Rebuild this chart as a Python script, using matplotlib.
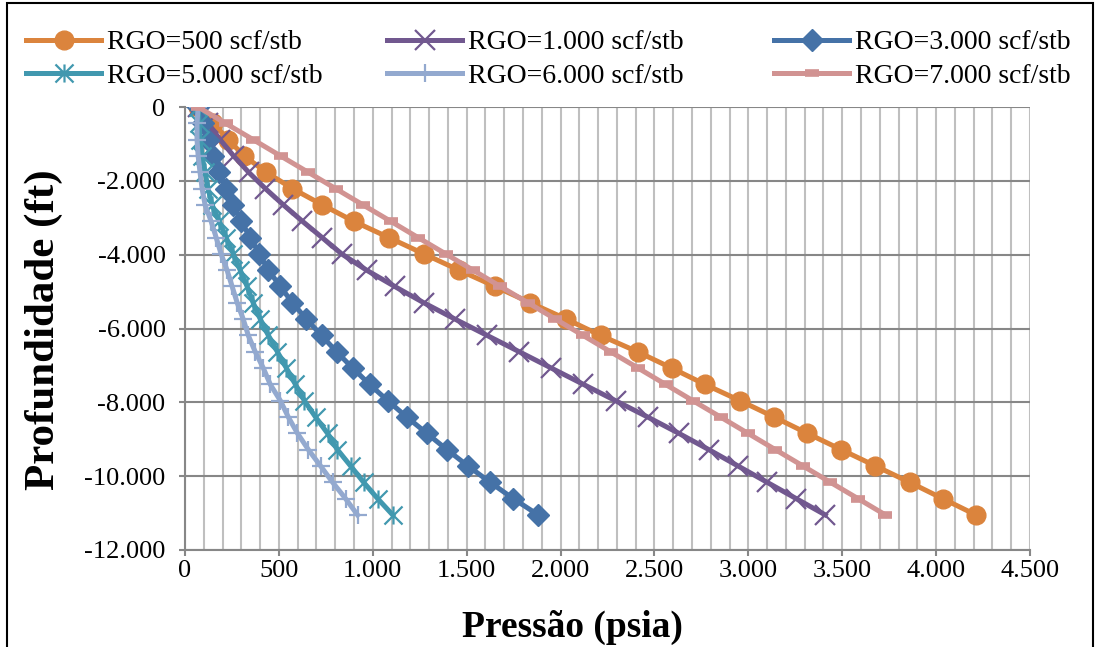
import numpy as np
import matplotlib
matplotlib.use("Agg")
import matplotlib.pyplot as plt
from matplotlib.path import Path
from matplotlib.patches import Rectangle
from matplotlib.ticker import MultipleLocator, FuncFormatter

plt.rcParams["font.family"] = ["Liberation Serif", "DejaVu Serif"]

# profundidade (ft), mesma malha para todas as curvas
depth = [0, -442, -884, -1326, -1768, -2210, -2652, -3094, -3536, -3978, -4420, -4862, -5304,
         -5746, -6188, -6630, -7072, -7514, -7956, -8398, -8840, -9282, -9724, -10166, -10608, -11050]

# pressao (psia) por RGO
p_500 = [70, 150, 230, 315, 433, 572, 732, 898, 1085, 1272, 1459, 1652, 1839,
         2031, 2213, 2410, 2592, 2769, 2956, 3137, 3314, 3495, 3677, 3859, 4035, 4212]
p_1000 = [70, 123, 187, 259, 339, 428, 524, 625, 730, 834, 967, 1117, 1272,
          1438, 1609, 1780, 1951, 2122, 2293, 2464, 2630, 2790, 2945, 3100, 3255, 3410]
p_3000 = [70, 96, 123, 150, 182, 219, 257, 299, 347, 396, 444, 508, 572,
          647, 727, 807, 893, 983, 1080, 1181, 1288, 1395, 1507, 1625, 1748, 1881]
p_5000 = [70, 75, 80, 91, 107, 123, 144, 182, 219, 257, 294, 331, 363,
          401, 444, 492, 540, 588, 636, 695, 759, 812, 882, 951, 1026, 1106]
p_6000 = [70, 64, 64, 70, 80, 91, 107, 139, 166, 192, 224, 251, 278,
          310, 337, 374, 417, 454, 508, 550, 599, 657, 722, 786, 855, 919]
p_7000 = [70, 216, 363, 509, 656, 802, 948, 1095, 1241, 1388, 1534, 1680, 1827,
          1973, 2120, 2266, 2413, 2559, 2705, 2852, 2998, 3144, 3291, 3437, 3584, 3730]

labels = ["RGO=500 scf/stb", "RGO=1.000 scf/stb", "RGO=3.000 scf/stb",
          "RGO=5.000 scf/stb", "RGO=6.000 scf/stb", "RGO=7.000 scf/stb"]
colors = ["#DB843D", "#71588F", "#4572A7", "#4198AF", "#93A9CF", "#D19392"]

# marcador estrela do Excel (x com traco vertical)
star = Path([(-1, -1), (1, 1), (-1, 1), (1, -1), (0, -1), (0, 1)],
            [Path.MOVETO, Path.LINETO, Path.MOVETO, Path.LINETO, Path.MOVETO, Path.LINETO])

fig = plt.figure(figsize=(10.99, 6.47), dpi=100)
ax = fig.add_axes([185 / 1099, 1 - 550 / 647, 845 / 1099, 443 / 647])

lw = 3.6
lines = []
lines += ax.plot(p_500, depth, color=colors[0], lw=lw, marker="o", ms=13.5, mec=colors[0])
lines += ax.plot(p_1000, depth, color=colors[1], lw=lw, marker="x", ms=14, mew=1.6)
lines += ax.plot(p_3000, depth, color=colors[2], lw=lw, marker="D", ms=11.5, mec=colors[2])
lines += ax.plot(p_5000, depth, color=colors[3], lw=lw, marker=star, ms=13, mew=1.6, mfc="none", mec=colors[3])
lines += ax.plot(p_6000, depth, color=colors[4], lw=lw, marker="+", ms=13, mew=1.6)
lines += ax.plot(p_7000, depth, color=colors[5], lw=lw, marker="_", ms=10, mew=5.5)

ax.set_xlim(0, 4500)
ax.set_ylim(-12000, 0)
ax.xaxis.set_major_locator(MultipleLocator(500))
ax.xaxis.set_minor_locator(MultipleLocator(100))
ax.yaxis.set_major_locator(MultipleLocator(2000))
fmt = FuncFormatter(lambda v, p: f"{v:,.0f}".replace(",", "."))
ax.xaxis.set_major_formatter(fmt)
ax.yaxis.set_major_formatter(fmt)

ax.grid(axis="x", which="both", color="#BFBFBF", lw=1.5)
ax.grid(axis="y", which="major", color="#878787", lw=1.5)
ax.set_axisbelow(True)
for s in ["top", "right"]:
    ax.spines[s].set_visible(False)
for s in ["left", "bottom"]:
    ax.spines[s].set_color("#878787")
    ax.spines[s].set_linewidth(1.5)
ax.tick_params(axis="both", which="major", labelsize=19, length=4, width=1.5, color="#878787")
ax.tick_params(axis="x", which="minor", length=0)
ax.tick_params(axis="x", pad=3)
ax.tick_params(axis="y", pad=10)

fig.text(572 / 1099, 1 - 627 / 647, "Pressão (psia)", ha="center", va="center",
         fontsize=27, fontweight="bold")
fig.text(44 / 1099, 1 - 330 / 647, "Profundidade (ft)", ha="center", va="center",
         rotation=90, fontsize=31, fontweight="bold")

# legenda em 3 colunas, posicionadas separadamente
cols_x = [26, 387, 774]
for k, x in enumerate(cols_x):
    leg = fig.legend([lines[k], lines[k + 3]], [labels[k], labels[k + 3]],
                     loc="upper left", bbox_to_anchor=(x / 1099, 1 - 30 / 647),
                     frameon=False, fontsize=20, handlelength=2.7, handletextpad=0.2,
                     labelspacing=0.3, borderpad=0, borderaxespad=0, numpoints=1)

fig.add_artist(Rectangle((7 / 1099, -0.05), 1086 / 1099, 1 - 3 / 647 + 0.05,
                         transform=fig.transFigure, fill=False, ec="black", lw=1.5))

fig.savefig("out.png", dpi=100)
